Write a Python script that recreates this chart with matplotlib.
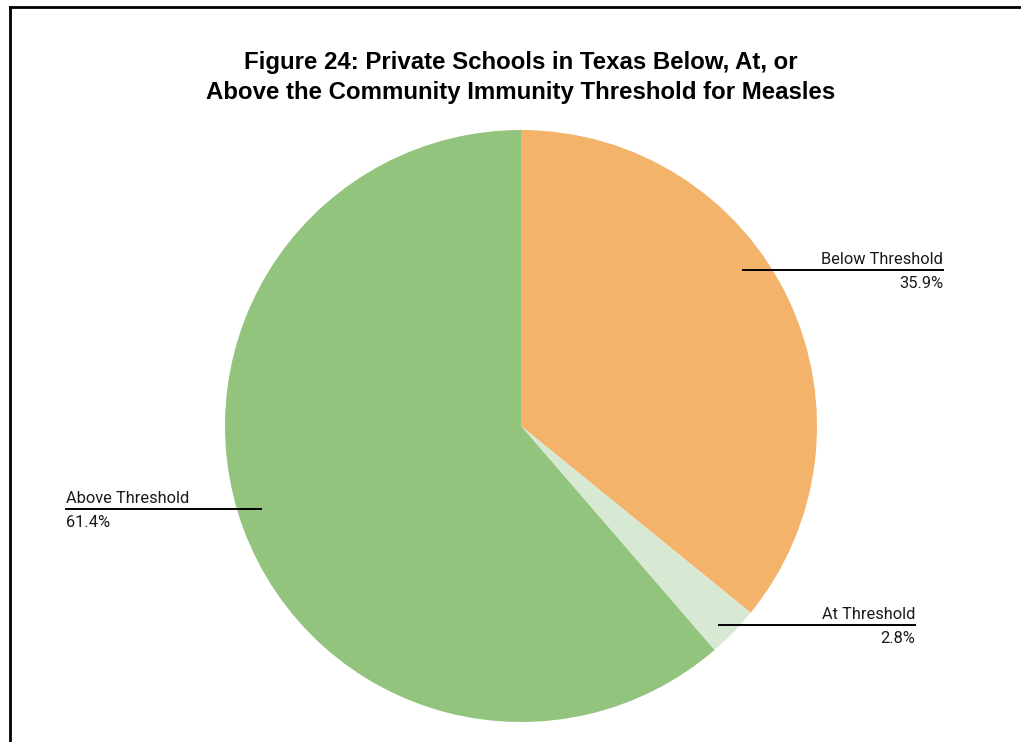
import matplotlib.pyplot as plt
from matplotlib.lines import Line2D

labels = ["Below Threshold", "At Threshold", "Above Threshold"]
shares = [35.9, 2.8, 61.4]
colors = ["#F4B36B", "#D7E9D3", "#93C47E"]

# label placement in pie units: (line x start, line x end, line y, text side)
label_pos = [(0.75, 1.426, 0.527, "right"),
             (0.669, 1.331, -0.672, "right"),
             (-1.537, -0.878, -0.28, "left")]

W, H = 1021, 742
fig = plt.figure(figsize=(W / 100, H / 100), dpi=100)

cx, cy, r = 521, 426, 296
ax = fig.add_axes([(cx - r) / W, (H - cy - r) / H, 2 * r / W, 2 * r / H])
ax.pie(shares, colors=colors, startangle=90, counterclock=False,
       radius=1, wedgeprops=dict(linewidth=0))
ax.set_xlim(-1, 1)
ax.set_ylim(-1, 1)
ax.set_aspect("equal")
ax.axis("off")

for lab, val, (x0, x1, y, side) in zip(labels, shares, label_pos):
    ax.plot([x0, x1], [y, y], color="black", lw=1.4, clip_on=False)
    tx = x1 if side == "right" else x0
    ax.text(tx, y + 0.02, lab, ha=side, va="baseline", fontsize=11.8,
            family="Roboto", color="#1a1a1a")
    ax.text(tx, y - 0.02, f"{val}%", ha=side, va="top", fontsize=11.8,
            family="Roboto", color="#1a1a1a")

title_font = dict(ha="center", va="baseline", fontsize=17.3, fontweight="bold",
                  family="Liberation Sans")
fig.text(cx / W, 1 - 69 / H, "Figure 24: Private Schools in Texas Below, At, or",
         **title_font)
fig.text(cx / W, 1 - 99 / H, "Above the Community Immunity Threshold for Measles",
         **title_font)

# frame on the top and left edges
fig.add_artist(Line2D([10 / W, 1], [1 - 7 / H, 1 - 7 / H], color="black", lw=2,
                      transform=fig.transFigure))
fig.add_artist(Line2D([10 / W, 10 / W], [0, 1 - 7 / H], color="black", lw=2,
                      transform=fig.transFigure))

fig.savefig("out.png", dpi=100, facecolor="white")
